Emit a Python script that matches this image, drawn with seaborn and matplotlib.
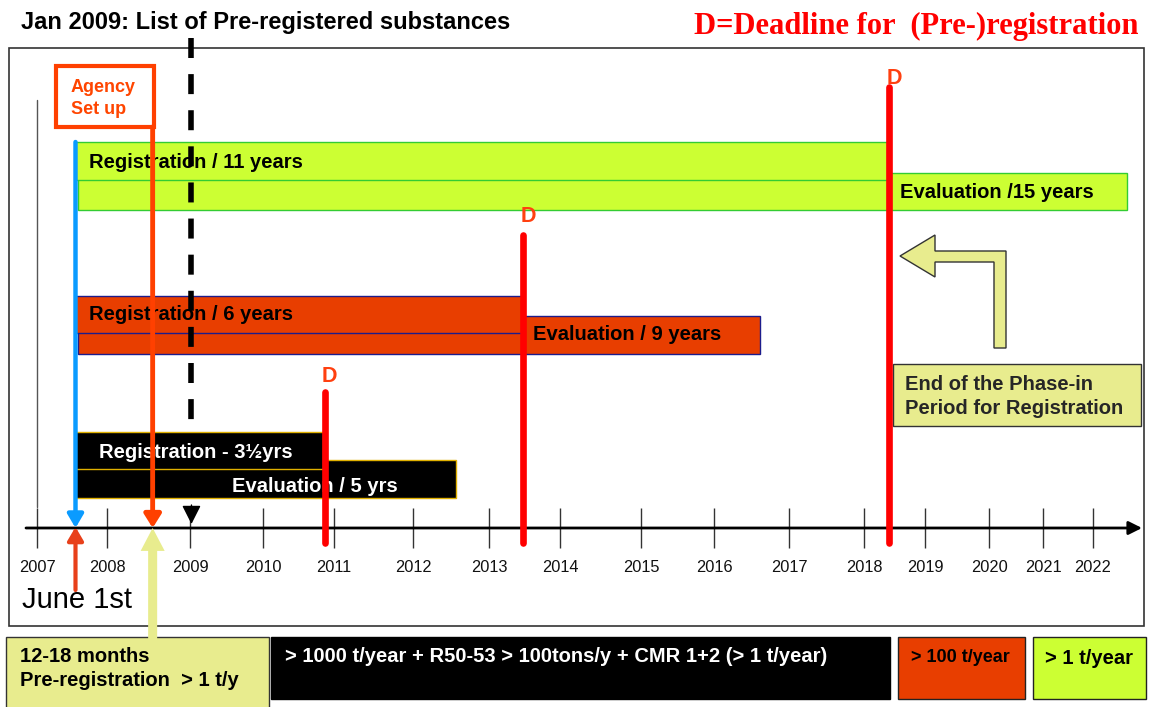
import numpy as np
import seaborn as sns
import matplotlib
matplotlib.use("Agg")
import matplotlib.pyplot as plt
from matplotlib.patches import Rectangle, FancyArrowPatch, Polygon, ArrowStyle

# --- data ---
years = list(range(2007, 2023))
reg_labels = ["Registration / 11 years", "Registration / 6 years", "Registration - 3½yrs"]
reg_start = [2007.55, 2007.55, 2007.55]
reg_end = [2018.39, 2013.46, 2010.85]
eval_labels = ["Evaluation /15 years", "Evaluation / 9 years", "Evaluation / 5 yrs"]
eval_start = [2007.58, 2007.58, 2007.55]
eval_end = [2022.68, 2016.61, 2012.57]
deadlines = [2018.41, 2013.48, 2010.87]
june_first = 2007.55
agency_setup = 2008.55
prereg_start = 2008.55
prereg_list = 2009.02
band_labels = ["12-18 months\nPre-registration  > 1 t/y",
               "> 1000 t/year + R50-53 > 100tons/y + CMR 1+2 (> 1 t/year)",
               "> 100 t/year", "> 1 t/year"]

# --- layout: the year ticks are hand placed (uneven), in pixels ---
tick_px = [37, 107, 190, 263, 334, 413, 489, 560, 641, 714, 789, 864, 925, 989, 1043, 1093]
yr_a = np.r_[1990, years, 2040]
px_a = np.r_[37 - 17 * 70, tick_px, 1093 + 18 * 50]


def fwd(x):
    return np.interp(x, yr_a, px_a)


def inv(p):
    return np.interp(p, px_a, yr_a)


tier_fill = ["#CCFF33", "#E83E00", "black"]
tier_edge = ["#33CC33", "#1C1C8C", "#E0B000"]
tier_text = ["black", "black", "white"]
reg_top, reg_h = [142, 296, 432], [38, 37, 37]
eval_top, eval_h = [173, 316, 460], [37, 38, 38]
reg_ty, reg_dx = [162, 315, 452], [14, 14, 24]
eval_ty, eval_dx = [192, 334, 487], [11, 10, -93]
d_top, d_lab_y = [87, 235, 392], [78, 217, 376]

YELLOW = "#E8EC8E"

sns.set_theme(style="white")
plt.rcParams["font.family"] = ["Liberation Sans", "DejaVu Sans"]

fig = plt.figure(figsize=(11.49, 7.07), dpi=100)

# pixel layer for frame, titles and boxes
lay = fig.add_axes([0, 0, 1, 1])
lay.set_xlim(0, 1149)
lay.set_ylim(707, 0)
lay.axis("off")

lay.add_patch(Rectangle((9, 48), 1135, 578, fill=False, ec="#333333", lw=1.2))
lay.text(21, 22, "Jan 2009: List of Pre-registered substances", fontsize=17,
         fontweight="bold", va="center", ha="left", color="black")
lay.text(1138, 26, "D=Deadline for  (Pre-)registration", fontsize=22, fontweight="bold",
         family=["Liberation Serif", "DejaVu Serif"], color="#FF0000", va="center", ha="right")

# agency box
lay.add_patch(Rectangle((56, 66), 98, 61, fill=False, ec="#FF4000", lw=3))
lay.text(71, 87, "Agency", fontsize=13, fontweight="bold", color="#FF4500", va="center")
lay.text(71, 110, "Set up", fontsize=13, fontweight="bold", color="#FF4500", va="center")

lay.text(22, 600, "June 1st", fontsize=21, va="center", ha="left", color="black")

# tonnage band boxes
lay.add_patch(Rectangle((6, 637), 263, 75, fc=YELLOW, ec="#333333", lw=1))
lay.text(20, 657, "12-18 months", fontsize=14.5, fontweight="bold", va="center", color="black")
lay.text(20, 681, "Pre-registration  > 1 t/y", fontsize=14.5, fontweight="bold", va="center",
         color="black")
lay.add_patch(Rectangle((271, 637), 619, 62, fc="black", ec="black", lw=1))
lay.text(285, 657, band_labels[1], fontsize=14.5, fontweight="bold", va="center", color="white")
lay.add_patch(Rectangle((898, 637), 127, 62, fc="#E83E00", ec="#222222", lw=1))
lay.text(911, 658, band_labels[2], fontsize=13, fontweight="bold", va="center", color="black")
lay.add_patch(Rectangle((1033, 637), 113, 62, fc="#CCFF33", ec="#222222", lw=1))
lay.text(1045, 658, band_labels[3], fontsize=14.5, fontweight="bold", va="center", color="black")

# end of phase-in note with bent arrow
lay.add_patch(Polygon([(900, 256), (935, 235), (935, 251), (1006, 251), (1006, 348),
                       (994, 348), (994, 262), (935, 262), (935, 277)],
                      closed=True, fc=YELLOW, ec="#333333", lw=1))
lay.add_patch(Rectangle((893, 364), 248, 62, fc=YELLOW, ec="#333333", lw=1))
lay.text(905, 384, "End of the Phase-in", fontsize=14.5, fontweight="bold", va="center")
lay.text(905, 408, "Period for Registration", fontsize=14.5, fontweight="bold", va="center")

# timeline axes: years on x (hand-drawn uneven spacing), pixels on y
ax = fig.add_axes([0, 0, 1, 1])
ax.set_facecolor("none")
ax.set_xscale("function", functions=(fwd, inv))
ax.set_xlim(inv(0), inv(1149))
ax.set_ylim(707, 0)
sns.despine(ax=ax, left=True, top=True, right=True, bottom=True)
ax.spines["bottom"].set_position(("data", 528))
ax.set_yticks([])
ax.set_xticks(years)
ax.set_xticklabels([str(y) for y in years])
ax.tick_params(axis="x", direction="inout", length=29.5, width=1, color="#333333",
               pad=8, labelsize=11.8, labelcolor="#111111", bottom=True)
ax.grid(False)

# timeline arrow
ax.add_patch(FancyArrowPatch((inv(26), 528), (inv(1142), 528),
                             arrowstyle=ArrowStyle("-|>", head_length=8, head_width=4),
                             mutation_scale=1, color="black", lw=2, shrinkA=0, shrinkB=0, zorder=3))

ax.plot([years[0], years[0]], [100, 507], color="#555555", lw=1, zorder=1)

for i in range(3):
    ax.barh(eval_top[i] + eval_h[i] / 2, eval_end[i] - eval_start[i], left=eval_start[i],
            height=eval_h[i], color=tier_fill[i], edgecolor=tier_edge[i], lw=1, zorder=2)
    ax.barh(reg_top[i] + reg_h[i] / 2, reg_end[i] - reg_start[i], left=reg_start[i],
            height=reg_h[i], color=tier_fill[i], edgecolor=tier_edge[i], lw=1, zorder=3)
    ax.annotate(reg_labels[i], (reg_start[i], reg_ty[i]), xytext=(reg_dx[i], 0),
                textcoords="offset pixels", fontsize=14.5, fontweight="bold",
                color=tier_text[i], va="center", ha="left", zorder=5.5)
    ax.annotate(eval_labels[i], (deadlines[i], eval_ty[i]), xytext=(eval_dx[i], 0),
                textcoords="offset pixels", fontsize=14.5, fontweight="bold",
                color=tier_text[i], va="center", ha="left", zorder=5.5)

# event lines
ax.plot([prereg_list, prereg_list], [38, 508], color="black", lw=4, dashes=(3.6, 2.9), zorder=5)
ax.add_patch(FancyArrowPatch((prereg_list, 505), (prereg_list, 524),
                             arrowstyle=ArrowStyle("-|>", head_length=11.5, head_width=5.8),
                             mutation_scale=1, color="black", lw=1, shrinkA=0, shrinkB=0, zorder=6))
ax.add_patch(FancyArrowPatch((june_first, 142), (june_first, 528),
                             arrowstyle=ArrowStyle("-|>", head_length=8, head_width=4.7),
                             mutation_scale=1, color="#0A9BFF", lw=3.2, shrinkA=0, shrinkB=0, zorder=6))
ax.add_patch(FancyArrowPatch((agency_setup, 127), (agency_setup, 528),
                             arrowstyle=ArrowStyle("-|>", head_length=8, head_width=5),
                             mutation_scale=1, color="#FF4000", lw=3.5, shrinkA=0, shrinkB=0, zorder=6))
ax.add_patch(FancyArrowPatch((june_first, 590), (june_first, 527),
                             arrowstyle=ArrowStyle("-|>", head_length=8, head_width=4.7),
                             mutation_scale=1, color="#E8401A", lw=3, shrinkA=0, shrinkB=0, zorder=6))
ax.add_patch(FancyArrowPatch((prereg_start, 640), (prereg_start, 528),
                             arrowstyle=ArrowStyle("simple", head_length=16.5, head_width=17.3,
                                                   tail_width=6.5),
                             mutation_scale=1, fc=YELLOW, ec="none", lw=0, shrinkA=0, shrinkB=0, zorder=6))

for d, top, ly in zip(deadlines, d_top, d_lab_y):
    ax.plot([d, d], [top, 543], color="#FF0000", lw=4.8, solid_capstyle="round", zorder=7)
    ax.annotate("D", (d, ly), xytext=(5, 0), textcoords="offset pixels", fontsize=15.5,
                fontweight="bold", color="#FF4010", ha="center", va="center", zorder=7)

fig.savefig("out.png", dpi=100)
plt.close(fig)
